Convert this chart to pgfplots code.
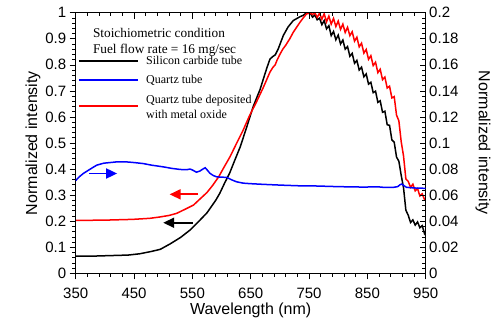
\documentclass[border=0pt]{standalone}
\usepackage{fontspec}
\setmainfont{Liberation Serif}
\newfontfamily\arial{Liberation Sans}
\usepackage{pgfplots}
\pgfplotsset{compat=1.18}
\usetikzlibrary{arrows.meta}

\begin{document}
\begin{tikzpicture}
\begin{axis}[name=ax, scale only axis, width=350pt, height=260.6pt,
  xmin=350, xmax=950, ymin=0, ymax=1,
  xtick={350,450,550,650,750,850,950}, minor x tick num=4,
  ytick={0,0.1,0.2,0.3,0.4,0.5,0.6,0.7,0.8,0.9,1}, minor y tick num=4,
  tick align=outside, xtick pos=bottom, ytick pos=left,
  major tick length=6pt, minor tick length=3.5pt,
  tick style={black, line width=0.6pt},
  axis line style={line width=0.8pt},
  scaled y ticks=false,
  /pgf/number format/assume math mode=true,
  ticklabel style={font=\arial\fontsize{15}{15}\selectfont},
  xticklabel style={yshift=-5pt},
  label style={font=\arial\fontsize{16}{16}\selectfont},
  xlabel={Wavelength (nm)}, ylabel={Normalized intensity},
  xlabel style={yshift=2pt},
  ylabel style={yshift=-2pt},
  clip=true,
]
\addplot[black, line width=1.5pt] coordinates {
(350,0.066)(380,0.066)(410,0.068)(440,0.070)(460,0.075)(480,0.084)(495,0.092)
(512,0.113)(530,0.138)(546,0.166)(560,0.197)(575,0.232)(590,0.280)(597,0.307)
(605,0.345)(614,0.385)(622,0.430)(632,0.485)(643,0.560)(654,0.638)(660,0.672)
(666,0.705)(672,0.748)(678,0.790)(683,0.822)(688,0.832)(692,0.838)(697,0.860)
(706,0.913)(714,0.945)(723,0.970)(734,0.984)(740,0.990)(746,1.000)
(752,0.999)(756,0.983)(760,0.991)(764,0.973)(768,0.979)(772,0.954)(776,0.970)
(780,0.938)(784,0.950)(788,0.912)(792,0.928)(796,0.896)(800,0.914)(804,0.880)
(808,0.895)(812,0.860)(816,0.870)(820,0.833)(824,0.844)(828,0.806)(832,0.817)
(836,0.780)(840,0.791)(844,0.754)(848,0.765)(852,0.726)(856,0.733)(860,0.693)
(864,0.699)(868,0.656)(872,0.662)(876,0.618)(880,0.622)(884,0.570)(888,0.568)
(892,0.512)(896,0.503)(900,0.446)(904,0.430)(908,0.376)(912,0.328)(916,0.242)
(920,0.223)(924,0.195)(928,0.205)(932,0.185)(936,0.197)(940,0.175)(944,0.183)
(948,0.152)(950,0.158)
};
\addplot[red, line width=1.5pt] coordinates {
(350,0.203)(400,0.204)(448,0.207)(477,0.211)(494,0.216)(510,0.222)(523,0.230)
(535,0.243)(552,0.262)(563,0.285)(575,0.310)(585,0.338)(595,0.370)(605,0.410)
(614.5,0.447)(625,0.495)(637,0.549)(648,0.605)(660,0.658)(672,0.715)(683,0.772)
(688,0.790)(692,0.800)(695,0.817)(700,0.840)(705,0.860)(710,0.875)(717,0.900)
(723,0.925)(729,0.945)(735,0.965)(740,0.980)(746,0.996)
(752,0.998)(756,0.993)(760,1.000)(764,0.982)(768,0.998)(772,0.975)(776,0.996)
(780,0.965)(784,0.987)(788,0.956)(792,0.978)(796,0.947)(800,0.968)(804,0.936)
(808,0.956)(812,0.924)(816,0.944)(820,0.912)(824,0.927)(828,0.891)(832,0.906)
(836,0.869)(840,0.883)(844,0.845)(848,0.859)(852,0.821)(856,0.835)(860,0.797)
(864,0.810)(868,0.770)(872,0.783)(876,0.743)(880,0.753)(884,0.711)(888,0.718)
(892,0.673)(896,0.678)(900,0.607)(904,0.585)(908,0.505)(912,0.450)(916,0.362)
(920,0.353)(924,0.330)(928,0.342)(932,0.316)(936,0.325)(940,0.297)(944,0.305)
(948,0.283)(950,0.287)
};
\draw[blue, line width=1.8pt, -{Triangle[length=11pt,width=10pt]}] (axis cs:373,0.383) -- (axis cs:421,0.383);
\draw[red, line width=1.8pt, -{Triangle[length=11pt,width=10pt]}] (axis cs:560,0.303) -- (axis cs:511,0.303);
\draw[black, line width=1.8pt, -{Triangle[length=11pt,width=10pt]}] (axis cs:551,0.194) -- (axis cs:500,0.194);
\node[anchor=north west, align=left, font=\fontsize{13.3}{16}\selectfont, inner sep=0pt]
  at (rel axis cs:0.049,0.94) {Stoichiometric condition\\Fuel flow rate = 16 mg/sec};
% legend
\draw[black, line width=1.5pt] (rel axis cs:0.0094,0.8146) -- (rel axis cs:0.178,0.8146);
\draw[blue, line width=1.5pt] (rel axis cs:0.0094,0.7417) -- (rel axis cs:0.178,0.7417);
\draw[red, line width=1.5pt] (rel axis cs:0.0094,0.6420) -- (rel axis cs:0.178,0.6420);
\node[anchor=base west, inner sep=0pt, font=\fontsize{12}{15}\selectfont]
  at (rel axis cs:0.2009,0.8012) {Silicon carbide tube};
\node[anchor=base west, inner sep=0pt, font=\fontsize{12}{15}\selectfont]
  at (rel axis cs:0.2009,0.7283) {Quartz tube};
\node[anchor=base west, inner sep=0pt, align=left, font=\fontsize{12}{15}\selectfont]
  at (rel axis cs:0.2009,0.5959) {Quartz tube deposited\\with metal oxide};
\end{axis}
\begin{axis}[scale only axis, width=350pt, height=260.6pt,
  xmin=350, xmax=950, ymin=0, ymax=0.2,
  xtick={350,450,550,650,750,850,950}, minor x tick num=4,
  ytick={0,0.02,0.04,0.06,0.08,0.1,0.12,0.14,0.16,0.18,0.2}, minor y tick num=4,
  tick align=inside, xtick pos=top, ytick pos=right,
  xticklabel=\empty, yticklabel pos=right,
  major tick length=6pt, minor tick length=3.5pt,
  tick style={black, line width=0.6pt},
  axis line style={line width=0.8pt},
  scaled y ticks=false,
  yticklabel style={/pgf/number format/fixed, /pgf/number format/precision=2},
  /pgf/number format/assume math mode=true,
  ticklabel style={font=\arial\fontsize{15}{15}\selectfont},
  label style={font=\arial\fontsize{16}{16}\selectfont},
  ylabel={Normalized intensity},
  ylabel style={at={(rel axis cs:1.164,0.5)}, anchor=center, rotate=180},
]
\addplot[blue, line width=1.5pt] coordinates {
(350,0.0712)(356,0.0740)(363,0.0766)(375,0.0800)(386,0.0830)(398,0.0845)(409,0.0850)
(420,0.0855)(437,0.0855)(450,0.0850)(466,0.0842)(480,0.0830)(500,0.0817)(515,0.0805)
(529,0.0797)(540,0.0795)(546,0.0800)(550,0.0793)(557,0.0776)(563,0.0785)(568,0.0800)
(572,0.0810)(576,0.0790)(580,0.0768)(586,0.0750)(592,0.0740)(600,0.0738)(609,0.0736)
(617,0.0718)(626,0.0702)(637,0.0692)(649,0.0688)(670,0.0683)(700,0.0677)(730,0.0672)
(763,0.0670)(800,0.0665)(840,0.0662)(870,0.0663)(877,0.0660)(895,0.0660)(902,0.0665)
(906,0.0680)(909,0.0685)(913,0.0672)(917,0.0660)(930,0.0655)(950,0.0652)
};
\end{axis}
\pgfresetboundingbox
\path[use as bounding box] ([xshift=-75.7pt,yshift=-56.7pt]ax.south west) rectangle ([xshift=70.3pt,yshift=12.7pt]ax.north east);
\end{tikzpicture}
\end{document}
